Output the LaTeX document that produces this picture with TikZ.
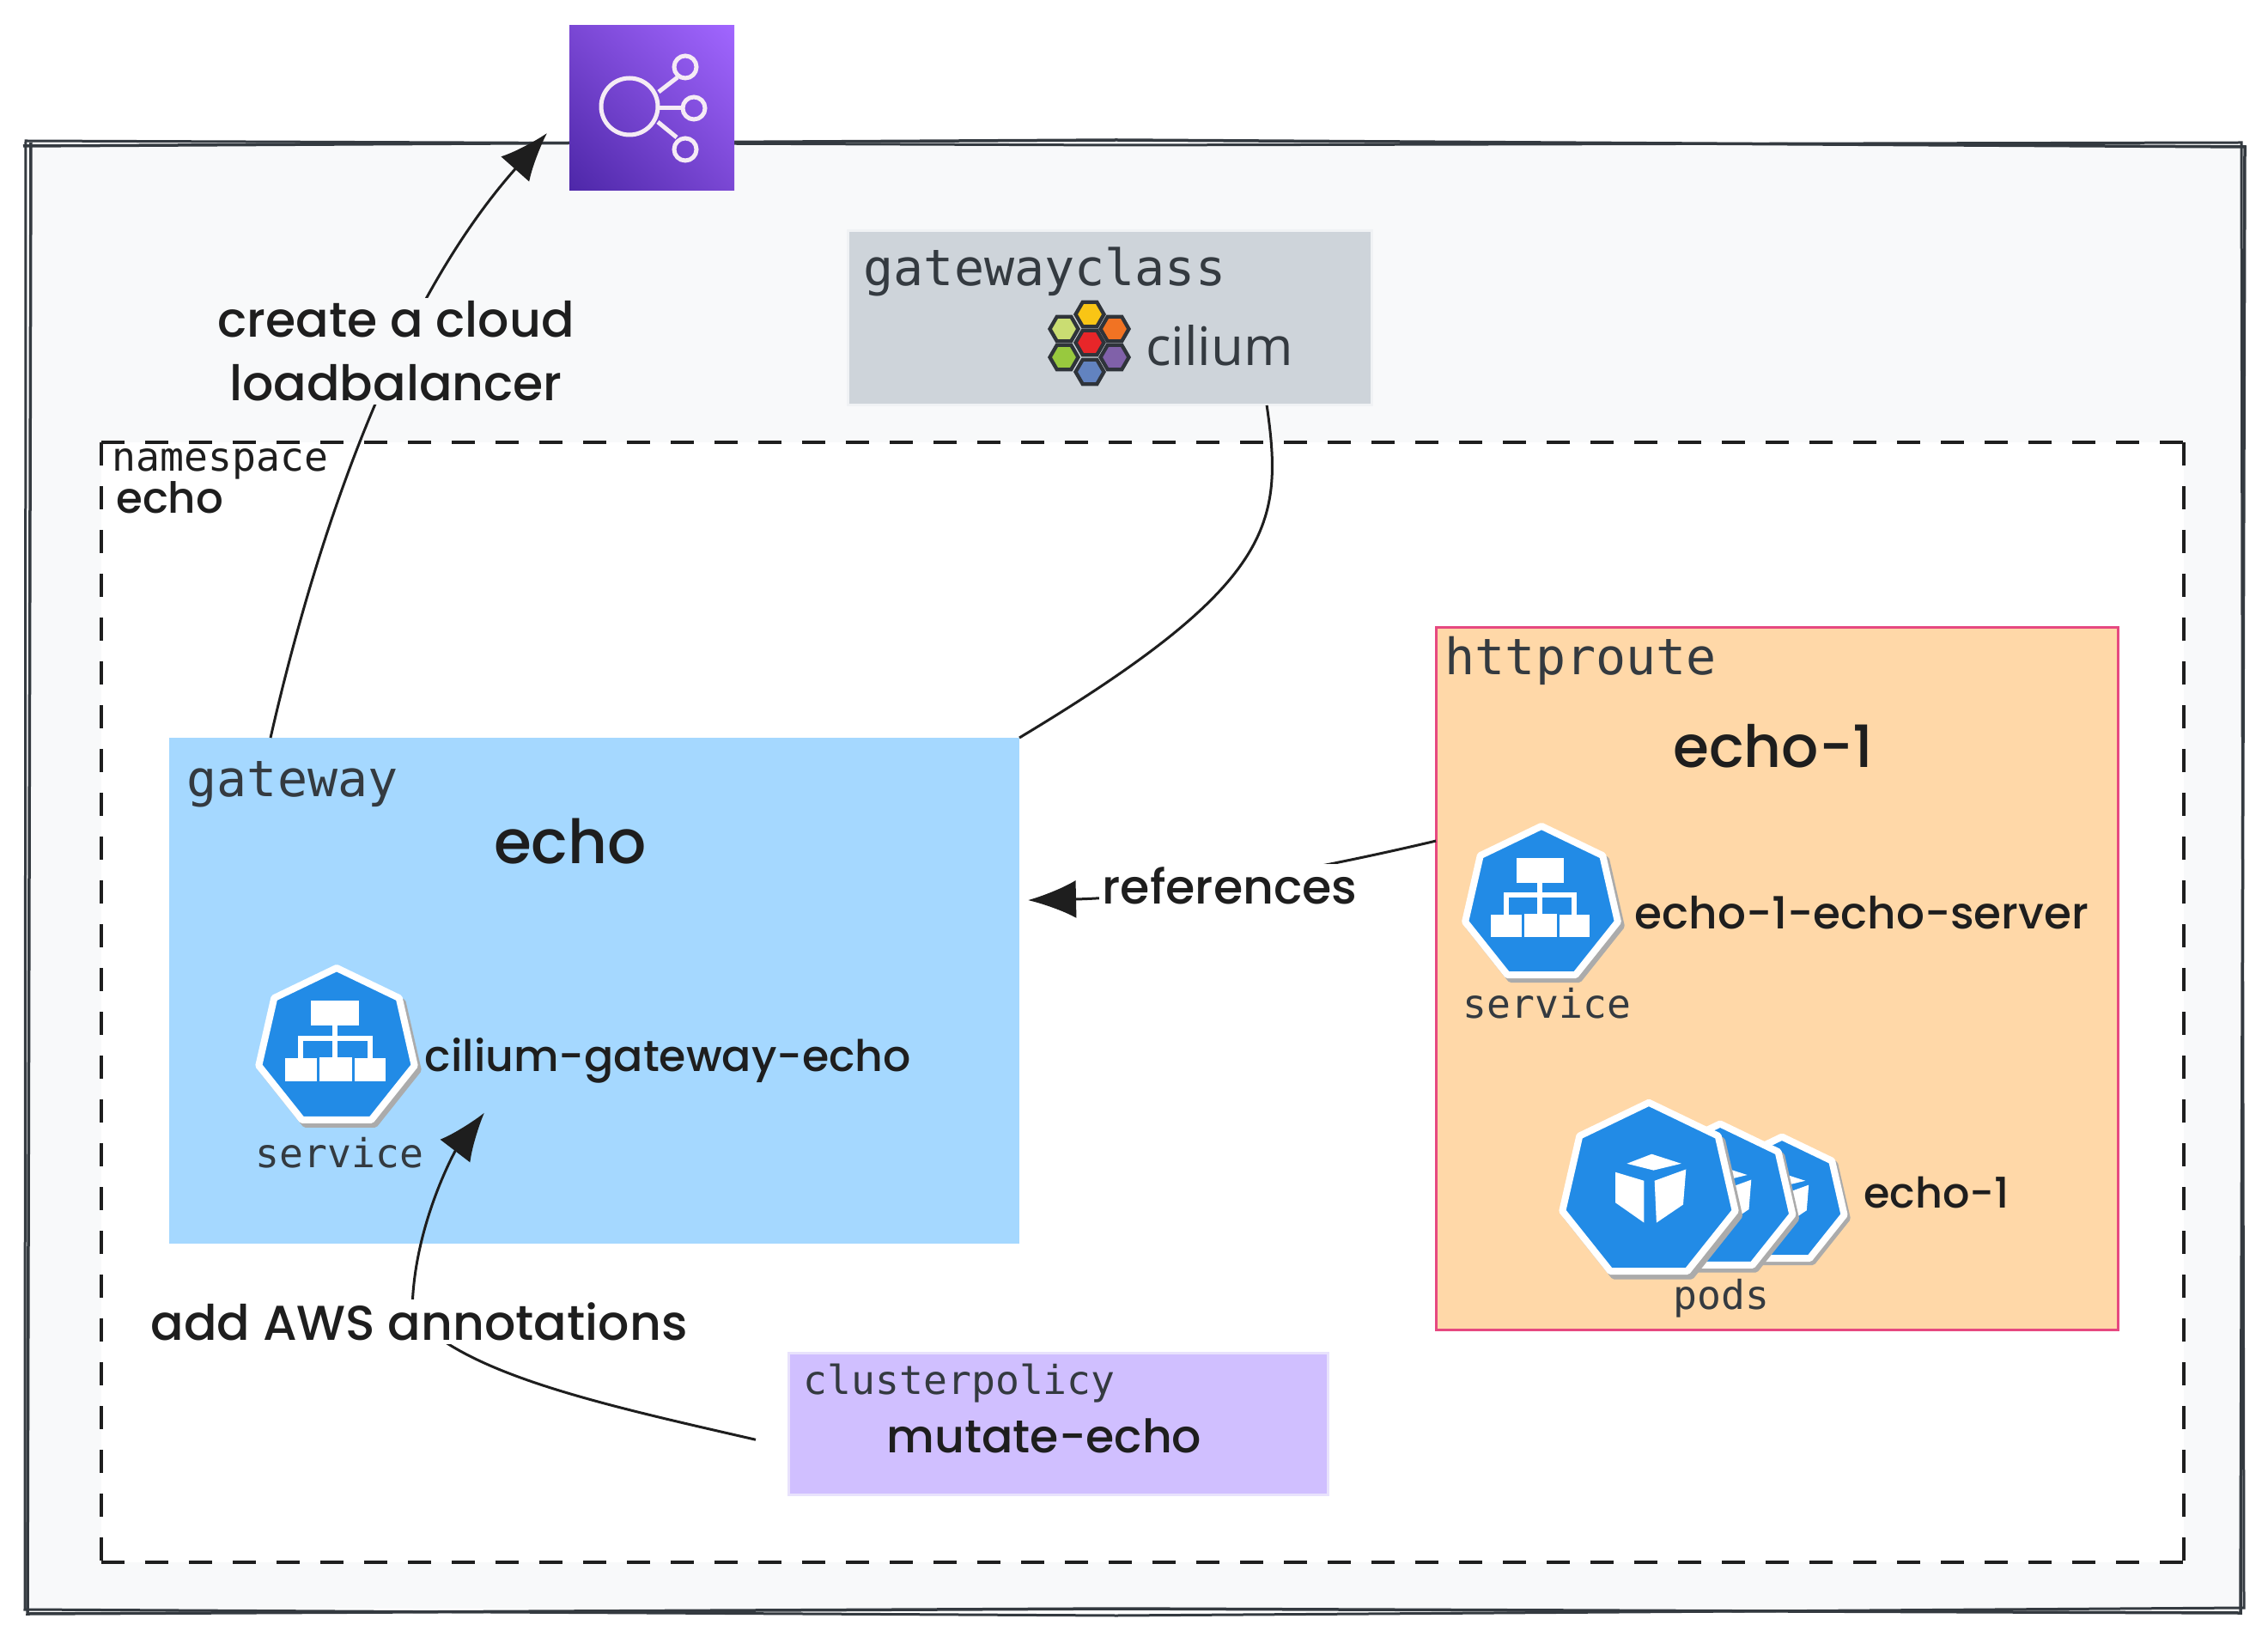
\documentclass[tikz,border=0pt]{standalone}
\usepackage{fontspec}
\setmainfont{Poppins}[UprightFont=* Medium]
\newfontfamily\codefont{DejaVu Sans Mono}
\newfontfamily\logofont{Open Sans}
\usetikzlibrary{arrows.meta,calc,shapes.geometric,shadings}

\definecolor{framebg}{HTML}{F8F9FA}
\definecolor{framedark}{HTML}{343A40}
\definecolor{inkdark}{HTML}{1E1E1E}
\definecolor{classgray}{HTML}{CED4DA}
\definecolor{gatewayblue}{HTML}{A5D8FF}
\definecolor{routeorange}{HTML}{FFD8A8}
\definecolor{routepink}{HTML}{E64980}
\definecolor{policyviolet}{HTML}{D0BFFF}
\definecolor{kubeblue}{HTML}{228BE6}
\definecolor{kubeshade}{HTML}{ABABAB}
\definecolor{lbdark}{HTML}{4D27A8}
\definecolor{lbmid}{HTML}{7A47D4}
\definecolor{lblight}{HTML}{A166FF}

\tikzset{
    box/.style={rectangle, inner sep=0pt, outer sep=0pt},
    hand/.style={text=inkdark, inner sep=1pt, align=center, font=\fontsize{#1}{21pt}\selectfont},
    code/.style={text=framedark, inner sep=0pt, anchor=west, font=\codefont\fontsize{#1}{#1}\selectfont},
    link/.style={draw=inkdark, line width=0.03cm},
    kubeface/.style={fill=kubeblue, draw=white, line width=0.08cm, line join=round},
    kubeback/.style={draw=kubeshade, fill=kubeshade, line width=0.08cm, line join=round},
    hexcell/.style={regular polygon, regular polygon sides=6, inner sep=0pt, minimum size=0.33cm, draw=framedark!90!black, line width=0.043cm},
}

% heptagon of the kubernetes icons, radius 1
\newcommand{\heptpath}{(0,-.93) -- (.727,-.58) -- (.907,.207) -- (.404,.838) -- (-.404,.838) -- (-.907,.207) -- (-.727,-.58) -- cycle}

% #1 centre, #2 radius
\newcommand{\svcicon}[2]{
    \begin{scope}[shift={#1}, scale=#2]
        \draw[kubeback, shift={(.04,.05)}] \heptpath;
        \draw[kubeface] \heptpath;
        \fill[white] (-.30,-.55) rectangle (.26,-.26);
        \fill[white] (-.60,.12) rectangle (-.23,.39);
        \fill[white] (-.20,.11) rectangle (.18,.39);
        \fill[white] (.21,.12) rectangle (.57,.39);
        \draw[white, line width=0.055cm] (-.02,-.3) -- (-.02,.15);
        \draw[white, line width=0.055cm] (-.42,.15) -- (-.42,-.11) -- (.39,-.11) -- (.39,.15);
    \end{scope}
}
\newcommand{\podicon}[2]{
    \begin{scope}[shift={#1}, scale=#2]
        \draw[kubeback, shift={(.04,.05)}] \heptpath;
        \draw[kubeface] \heptpath;
        \fill[white] (-.23,-.29) -- (.03,-.39) -- (.34,-.29) -- (.05,-.22) -- cycle;
        \fill[white] (-.35,-.20) -- (-.05,-.11) -- (-.05,.33) -- (-.35,.12) -- cycle;
        \fill[white] (.06,-.11) -- (.39,-.23) -- (.36,.14) -- (.08,.33) -- cycle;
    \end{scope}
}

\begin{document}
\begin{tikzpicture}[x=1cm, y=-1cm, >={Latex[length=0.56cm, width=0.44cm]}]
    \useasboundingbox (0,0) rectangle (26.41,19.06);

    % 1. Outer frame, two rough strokes
    \fill[framebg] (0.34,1.70) rectangle (26.10,18.73);
    \draw[framedark, line width=0.035cm] (0.27,1.70) -- (13.0,1.63) -- (26.14,1.71) -- (26.09,18.78) -- (13.0,18.73) -- (0.32,18.79) -- (0.36,1.66);
    \draw[framedark, line width=0.03cm] (0.30,1.64) -- (13.0,1.69) -- (26.10,1.66) -- (26.13,18.72) -- (13.0,18.81) -- (0.29,18.74) -- cycle;

    % 2. Boxes
    \node[box, fill=white, minimum width=24.25cm, minimum height=13.04cm, anchor=north west] (namespace) at (1.18,5.15) {};
    \foreach \a/\b in {north west/north east, north west/south west, south west/south east, north east/south east} {
        \draw[inkdark, line width=0.045cm, dash pattern=on 0.27cm off 0.24cm] (namespace.\a) -- (namespace.\b);
    }
    \node[box, fill=gatewayblue, minimum width=9.90cm, minimum height=5.89cm, anchor=north west] (gateway) at (1.97,8.59) {};
    \node[box, fill=routeorange, draw=routepink, line width=0.03cm, minimum width=7.94cm, minimum height=8.17cm, anchor=north west] (httproute) at (16.72,7.31) {};
    \node[box, fill=classgray, draw=framebg!80!classgray, line width=0.03cm, minimum width=6.10cm, minimum height=2.03cm, anchor=north west] (gatewayclass) at (9.87,2.69) {};
    \node[box, fill=policyviolet, draw=framebg!60!policyviolet, line width=0.03cm, minimum width=6.28cm, minimum height=1.65cm, anchor=north west] (clusterpolicy) at (9.18,15.75) {};

    % 3. Load balancer icon
    \node[box, minimum size=1.92cm, shading=bilinear interpolation, lower left=lbdark, upper right=lblight, upper left=lbmid, lower right=lbmid, anchor=north west] (lb) at (6.63,0.30) {};
    \begin{scope}[white!92!violet, line width=0.05cm]
        \draw (7.33,1.24) circle (0.33);
        \foreach \x/\y in {7.98/0.78, 8.08/1.26, 7.98/1.74} {
            \draw (\x,\y) circle (0.13);
        }
        \draw (7.67,1.07) -- (7.89,0.90);
        \draw (7.68,1.26) -- (7.94,1.26);
        \draw (7.66,1.42) -- (7.88,1.60);
    \end{scope}

    % 4. Cilium logo
    \foreach \n/\x/\y/\c in {yellow/12.69/3.66/F9C515, orange/12.98/3.83/F17323, lime/12.39/3.83/CADD72, red/12.69/3.99/E82629, green/12.39/4.16/98C93E, purple/12.98/4.16/8061A9, blue/12.69/4.33/6283C0} {
        \definecolor{hexfill}{HTML}{\c}
        \node[hexcell, fill=hexfill] (hex\n) at (\x,\y) {};
    }
    \node[text=framedark, inner sep=0pt, font=\logofont\fontsize{17.6}{17.6}\selectfont] (ciliumname) at (14.20,4.02) {cilium};

    % 5. Kubernetes icons
    \svcicon{(3.92,12.20)}{1.00}
    \svcicon{(17.95,10.53)}{0.98}
    \podicon{(20.75,13.98)}{0.80}
    \podicon{(20.03,13.95)}{0.93}
    \podicon{(19.20,13.87)}{1.11}

    % 6. Texts in the boxes
    \node[code=16.6pt] (classtitle) at (10.05,3.16) {gatewayclass};
    \node[code=16.6pt] (gatewaytitle) at (2.17,9.13) {gateway};
    \node[code=16.6pt] (routetitle) at (16.82,7.69) {httproute};
    \node[code=13.2pt] (policytitle) at (9.35,16.11) {clusterpolicy};
    \node[code=13.2pt, text=inkdark] (namespacetitle) at (1.30,5.40) {namespace};
    \node[code=13.2pt] (gatewaysvctag) at (2.97,13.42) {service};
    \node[code=13.2pt] (routesvctag) at (17.03,11.68) {service};
    \node[code=13.2pt] (podstag) at (19.48,15.12) {pods};

    \node[hand=14.2pt, anchor=west] (namespacename) at (1.31,5.79) {echo};
    \node[hand=20.2pt] (gatewayname) at (6.64,9.80) {echo};
    \node[hand=19.3pt] (routename) at (20.65,8.69) {echo-1};
    \node[hand=14.4pt] (gatewaysvc) at (7.78,12.35) {cilium-gateway-echo};
    \node[hand=14.7pt] (routesvc) at (21.68,10.63) {echo-1-echo-server};
    \node[hand=14pt] (podsname) at (22.55,13.89) {echo-1};
    \node[hand=15.3pt] (policyname) at (12.16,16.72) {mutate-echo};

    % 7. Connectors, labels lie on top of them
    \coordinate (lbend) at ($(lb.west)+(-0.26,0.29)$);
    \coordinate (svcend) at ($(gatewaysvc.south)+(-2.14,0.30)$);
    \draw[link, ->] (gateway.142) .. controls (3.65,6.40) and (4.55,3.60) .. (lbend);
    \draw[link] (gatewayclass.331) .. controls (14.95,6.10) and (14.85,6.80) .. (gateway.north east);
    \draw[link, ->, shorten >=0.10cm] (httproute.158.4) .. controls (15.20,10.15) and (13.50,10.45) .. (gateway.12);
    \draw[link, ->, shorten <=0.39cm] (clusterpolicy.185.5) .. controls (7.00,16.35) and (5.40,16.00) .. (4.80,15.30) .. controls (4.80,14.30) and (5.30,13.40) .. (svcend);

    \node[hand=16.2pt, fill=framebg] (cloudlabel) at (4.61,4.09) {create a cloud\\loadbalancer};
    \node[hand=15.8pt, fill=white] (referencelabel) at (14.32,10.31) {references};
    \node[hand=16.2pt, fill=white] (policylabel) at (4.88,15.39) {add AWS annotations};
\end{tikzpicture}
\end{document}
